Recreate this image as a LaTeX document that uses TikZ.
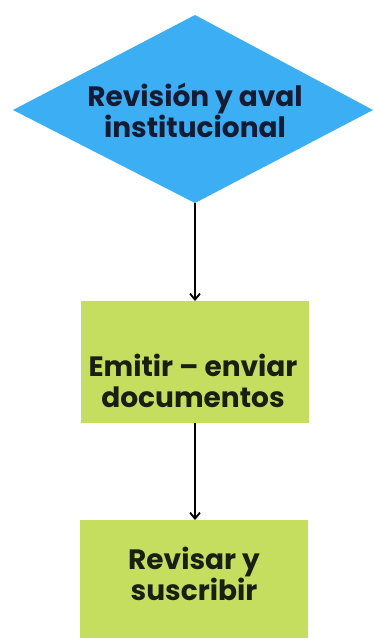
\documentclass[tikz,border=0pt]{standalone}
\usepackage{fontspec}
\setmainfont{Poppins}
\usetikzlibrary{arrows.meta}
\definecolor{diablue}{HTML}{3CAEF4}
\definecolor{boxgreen}{HTML}{C5DE60}
\definecolor{navytext}{HTML}{141B33}
\definecolor{darktext}{HTML}{1A1F14}
\tikzset{
  x=1pt, y=-1pt,
  lbl/.style={font=\fontsize{28}{31}\selectfont\bfseries, align=center, inner sep=0pt},
  flowarrow/.style={line width=2.4pt, -{Straight Barb[length=6pt,width=10pt,line width=1.8pt]}},
}
\begin{document}
\begin{tikzpicture}
\useasboundingbox (0,0) rectangle (375,638);
\fill[white] (0,0) rectangle (375,638);
% diamond
\fill[diablue] (195,15) -- (373,110) -- (195,203) -- (13,110) -- cycle;
\coordinate (dbot) at (195,203);
\node[lbl, text=navytext] (d) at (195,110) {Revisión y aval\\institucional};
% box 1
\fill[boxgreen] (81,301) rectangle (309,423);
\coordinate (b1top) at (195,301);
\coordinate (b1bot) at (195,423);
\node[lbl, text=darktext] (b1) at (193,381) {Emitir – enviar\\documentos};
% box 2
\fill[boxgreen] (80,520) rectangle (308,640);
\coordinate (b2top) at (195,520);
\node[lbl, text=darktext] (b2) at (194,574) {Revisar y\\suscribir};
% arrows
\draw[flowarrow] (dbot) -- (b1top);
\draw[flowarrow] (b1bot) -- (b2top);
\end{tikzpicture}
\end{document}
